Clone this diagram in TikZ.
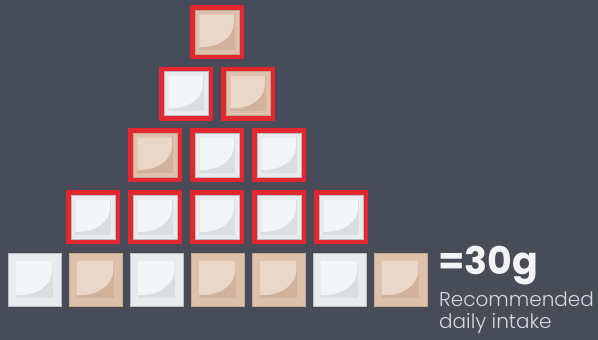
\documentclass[tikz,border=0pt]{standalone}
\usepackage{fontspec}
\setmainfont{Poppins}
\newfontfamily\lightfont{Poppins Light}
\definecolor{bg}{HTML}{474C58}
\definecolor{framered}{HTML}{E2272E}
\definecolor{cWrim}{HTML}{E8EAEE}
\definecolor{cWdark}{HTML}{DCDDE1}
\definecolor{cWlight}{HTML}{F4F5F7}
\definecolor{cWline}{HTML}{B9BDC4}
\definecolor{cTrim}{HTML}{DEC1AB}
\definecolor{cTdark}{HTML}{D3B29B}
\definecolor{cTlight}{HTML}{E9D7C9}
\definecolor{cTline}{HTML}{C4A790}
\definecolor{txtmain}{HTML}{F3F3F4}
\definecolor{txtsub}{HTML}{D6D7DA}
% #1 x, #2 y (top-left, px), #3 size, #4 rim fraction, #5 type W/T
\newcommand\sugarcube[5]{%
  \begin{scope}[shift={(#1,#2)}, x=#3pt, y=-#3pt]
    \fill[c#5rim] (0,0) rectangle (1,1);
    \draw[c#5line, line width=0.5pt] (0,0) rectangle (1,1);
    \begin{scope}[shift={(#4,#4)}, scale={1-2*#4}]
      \fill[c#5dark] (0,0) rectangle (1,1);
      \fill[c#5light] (0,0) -- (0.98,0) -- (0.98,0.25)
        .. controls (0.98,0.62) and (0.59,0.92) .. (0.11,0.92)
        -- (0,0.92) -- cycle;
    \end{scope}
  \end{scope}}
% framed cube: #1 x, #2 y of frame outer, #3 type
\newcommand\framedcube[3]{%
  \draw[framered, line width=5pt] (#1+2.5,#2+2.5) rectangle (#1+51.5,#2+51.5);
  \sugarcube{#1+5}{#2+5}{44}{0.1}{#3}}
\begin{document}
\begin{tikzpicture}[x=1pt, y=-1pt]
  \fill[bg] (0,0) rectangle (598,340);
  \useasboundingbox (0,0) rectangle (598,340);
  % pyramid rows
  \framedcube{190}{5}{T}
  \framedcube{159}{66.5}{W}
  \framedcube{221}{66.5}{T}
  \framedcube{128}{128}{T}
  \framedcube{190}{128}{W}
  \framedcube{252}{128}{W}
  \framedcube{66}{190}{W}
  \framedcube{128}{190}{W}
  \framedcube{190}{190}{W}
  \framedcube{252}{190}{W}
  \framedcube{314}{190}{W}
  % bottom row
  \sugarcube{8}{253}{53}{0.15}{W}
  \sugarcube{69}{253}{53}{0.15}{T}
  \sugarcube{130}{253}{53}{0.15}{W}
  \sugarcube{191}{253}{53}{0.15}{T}
  \sugarcube{252}{253}{53}{0.15}{T}
  \sugarcube{313}{253}{53}{0.15}{W}
  \sugarcube{374}{253}{53}{0.15}{T}
  % texts
  \node[anchor=base west, inner sep=0pt, text=txtmain, font=\fontsize{38}{38}\selectfont\bfseries] (amount) at (438,274) {=30g};
  \node[anchor=base west, inner sep=0pt, text=txtsub, font=\fontsize{20}{20}\selectfont\lightfont] (rec) at (439,306) {Recommended};
  \node[anchor=base west, inner sep=0pt, text=txtsub, font=\fontsize{20}{20}\selectfont\lightfont] (daily) at (439,328) {daily intake};
\end{tikzpicture}
\end{document}
